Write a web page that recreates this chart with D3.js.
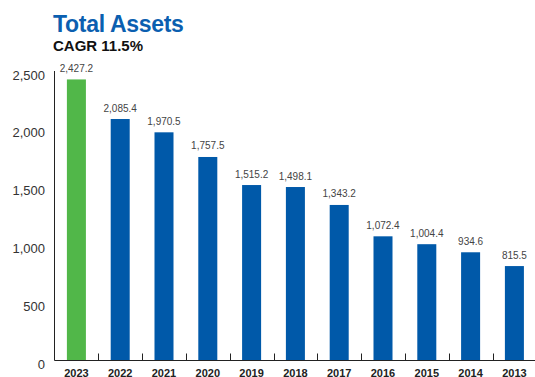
<!DOCTYPE html>
<html>
<head>
<meta charset="utf-8">
<script src="https://cdn.jsdelivr.net/npm/d3@7"></script>
<style>
  html, body { margin: 0; padding: 0; background: #fff; }
  svg { display: block; font-family: "Liberation Sans", Arial, Helvetica, sans-serif; }
</style>
</head>
<body>
<svg id="chart" width="535" height="377"></svg>
<script>
// Total assets by fiscal year (newest first)
const years = ["2023", "2022", "2021", "2020", "2019", "2018", "2017", "2016", "2015", "2014", "2013"];
const assets = [2427.2, 2085.4, 1970.5, 1757.5, 1515.2, 1498.1, 1343.2, 1072.4, 1004.4, 934.6, 815.5];
const yTicks = [0, 500, 1000, 1500, 2000, 2500];
const titleText = "Total Assets";
const subtitleText = "CAGR 11.5%";

const svg = d3.select("#chart");
const plotLeft = 54.5, plotRight = 536.3, plotTop = 71, plotBottom = 360.5;

const x = d3.scaleBand()
  .domain(years)
  .range([plotLeft, plotRight])
  .paddingInner(0.566)
  .paddingOuter(0.283);

const y = d3.scaleLinear().domain([0, 2500]).range([plotBottom, plotTop]);

// Title block
svg.append("text")
  .attr("x", 53).attr("y", 31.5)
  .attr("font-size", 23).attr("font-weight", "bold")
  .attr("letter-spacing", -0.3)
  .attr("fill", "#0b5fb0")
  .text(titleText);
svg.append("text")
  .attr("x", 53).attr("y", 50.5)
  .attr("font-size", 15).attr("font-weight", "bold")
  .attr("fill", "#111")
  .text(subtitleText);

// Y axis: labels only plus a vertical rule
svg.append("line")
  .attr("x1", plotLeft).attr("x2", plotLeft)
  .attr("y1", y(2500)).attr("y2", plotBottom)
  .attr("stroke", "#222").attr("stroke-width", 1);
svg.selectAll(".ytick")
  .data(yTicks)
  .join("text")
  .attr("class", "ytick")
  .attr("x", 45).attr("y", d => y(d) + 8.5)
  .attr("text-anchor", "end")
  .attr("font-size", 13)
  .attr("fill", "#333")
  .text(d => d3.format(",")(d));

// Bars
svg.selectAll(".bar")
  .data(years)
  .join("rect")
  .attr("class", "bar")
  .attr("x", d => x(d))
  .attr("width", x.bandwidth())
  .attr("y", (d, i) => y(assets[i]))
  .attr("height", (d, i) => y(0) - y(assets[i]))
  .attr("fill", (d, i) => i === 0 ? "#51b749" : "#0059a9");

// Value labels
svg.selectAll(".val")
  .data(years)
  .join("text")
  .attr("class", "val")
  .attr("x", d => x(d) + x.bandwidth() / 2)
  .attr("y", (d, i) => y(assets[i]) - 7.5)
  .attr("text-anchor", "middle")
  .attr("font-size", 10)
  .attr("fill", "#444")
  .text((d, i) => d3.format(",.1f")(assets[i]));

// Baseline with separators between categories
svg.append("line")
  .attr("x1", plotLeft).attr("x2", 535)
  .attr("y1", plotBottom).attr("y2", plotBottom)
  .attr("stroke", "#222").attr("stroke-width", 1);
const step = x.step();
svg.selectAll(".sep")
  .data(years.slice(1))
  .join("line")
  .attr("class", "sep")
  .attr("x1", (d, i) => Math.round(plotLeft + step * (i + 1)) + 0.5)
  .attr("x2", (d, i) => Math.round(plotLeft + step * (i + 1)) + 0.5)
  .attr("y1", plotBottom - 7).attr("y2", plotBottom)
  .attr("stroke", "#222").attr("stroke-width", 1);

// Category labels
svg.selectAll(".cat")
  .data(years)
  .join("text")
  .attr("class", "cat")
  .attr("x", d => x(d) + x.bandwidth() / 2)
  .attr("y", 376.5)
  .attr("text-anchor", "middle")
  .attr("font-size", 11)
  .attr("font-weight", "bold")
  .attr("fill", "#222")
  .text(d => d);
</script>
</body>
</html>
